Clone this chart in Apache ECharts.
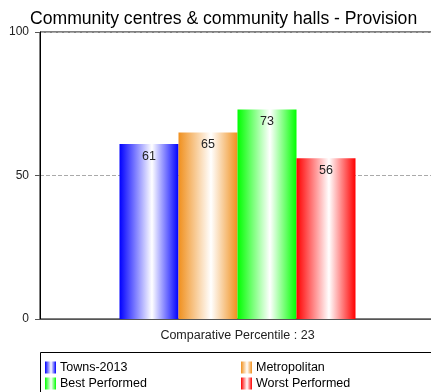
<!DOCTYPE html>
<html>
<head>
<meta charset="utf-8">
<script src="https://cdn.jsdelivr.net/npm/echarts@6/dist/echarts.min.js"></script>
<style>
  html, body { margin: 0; padding: 0; background: #fff; }
  #chart { width: 431px; height: 392px; }
</style>
</head>
<body>
<div id="chart"></div>
<script>
// Provision scores for community centres & halls
const categories = ['Comparative Percentile : 23'];
const seriesNames = ['Towns-2013', 'Metropolitan', 'Best Performed', 'Worst Performed'];
const seriesValues = [61, 65, 73, 56];
const seriesColors = ['#0000ff', '#f0901e', '#00ff00', '#ff0000'];
const yTicks = [0, 50, 100];

function shade(c) {
  return new echarts.graphic.LinearGradient(0, 0, 1, 0, [
    { offset: 0, color: c },
    { offset: 0.55, color: '#ffffff' },
    { offset: 1, color: c }
  ]);
}

const chart = echarts.init(document.getElementById('chart'), null, { renderer: 'canvas' });

const FONT = 'Liberation Sans, Arial, sans-serif';

// legend slots: two columns, two rows
const legendPos = [[45, 361], [241, 361], [45, 377], [241, 377]];

chart.setOption({
  animation: false,
  backgroundColor: '#ffffff',
  title: {
    text: 'Community centres & community halls - Provision',
    left: 25,
    top: 5,
    textStyle: { fontFamily: FONT, fontSize: 17.6, fontWeight: 'normal', color: '#000' }
  },
  grid: {
    left: 40, top: 32, width: 395, bottom: 73,
    outerBoundsMode: 'none',
    containLabel: false,
    show: true, borderColor: '#000', borderWidth: 1
  },
  legend: seriesNames.map((name, i) => ({
    data: [name],
    left: legendPos[i][0], top: legendPos[i][1],
    padding: 0,
    icon: 'rect',
    itemWidth: 11, itemHeight: 12,
    itemGap: 4,
    itemStyle: { borderWidth: 0 },
    textStyle: { fontFamily: FONT, fontSize: 12.5, color: '#000', padding: [0, 0, 0, -1] }
  })),
  graphic: [
    {
      type: 'rect', z: 0,
      shape: { x: 40.5, y: 352.5, width: 400, height: 60 },
      style: { fill: 'none', stroke: '#000', lineWidth: 1 }
    }
  ],
  xAxis: {
    type: 'category',
    data: categories,
    axisLine: { lineStyle: { color: '#555' } },
    axisTick: { show: false },
    axisLabel: { fontFamily: FONT, fontSize: 12.5, color: '#222', margin: 10 }
  },
  yAxis: {
    type: 'value',
    min: yTicks[0], max: yTicks[yTicks.length - 1], interval: 50,
    axisLine: { show: true, lineStyle: { color: '#000' } },
    axisTick: { show: true, length: 5, lineStyle: { color: '#555' } },
    axisLabel: { fontFamily: FONT, fontSize: 12, color: '#222', margin: 11 },
    splitLine: { show: true, lineStyle: { color: '#aaa', type: 'dashed' } }
  },
  series: seriesNames.map((name, i) => ({
    name: name,
    type: 'bar',
    data: [seriesValues[i]],
    barWidth: 59,
    barGap: '0%',
    itemStyle: { color: shade(seriesColors[i]) },
    label: {
      show: true, position: 'insideTop', distance: 6,
      fontFamily: FONT, fontSize: 12.5, color: '#222'
    }
  }))
});
</script>
</body>
</html>
